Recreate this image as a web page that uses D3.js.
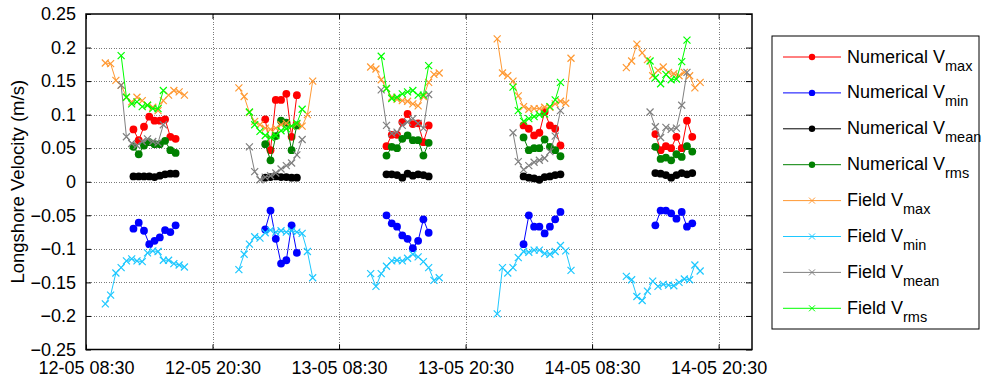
<!DOCTYPE html>
<html>
<head>
<meta charset="utf-8">
<script src="https://cdn.jsdelivr.net/npm/d3@7"></script>
<style>
  html, body { margin: 0; padding: 0; background: #fff; }
  svg { display: block; font-family: Arial, "Liberation Sans", sans-serif; }
</style>
</head>
<body>
<svg id="chart" width="982" height="385"></svg>
<script>
// Time axis: ticks every 12 h
const xTickLabels = ["12-05 08:30", "12-05 20:30", "13-05 08:30", "13-05 20:30", "14-05 08:30", "14-05 20:30"];
const xDomain = ["12-05 08:30", "14-05 23:40"];
const yTicks = [-0.25, -0.2, -0.15, -0.1, -0.05, 0, 0.05, 0.1, 0.15, 0.2, 0.25];
const stepMinutes = 30;

// Start time of each tidal window (one per panel)
const numStart      = ["12-05 13:00", "13-05 01:30", "13-05 13:00", "14-05 02:00", "14-05 14:30"];
const fieldExtStart = ["12-05 10:20", "12-05 23:00", "13-05 11:30", "13-05 23:30", "14-05 11:45"];
const fieldAvgStart = ["12-05 11:50", "13-05 00:00", "13-05 12:30", "14-05 01:00", "14-05 14:00"];

// Numerical model results (m/s)
const numVmax = [
  [0.078, 0.062, 0.082, 0.097, 0.091, 0.091, 0.093, 0.067, 0.064],
  [0.093, 0.047, 0.122, 0.122, 0.131, 0.067, 0.129],
  [0.053, 0.070, 0.070, 0.089, 0.101, 0.086, 0.087, 0.059, 0.084],
  [0.084, 0.079, 0.069, 0.073, 0.104, 0.084, 0.079, 0.054],
  [0.071, 0.047, 0.053, 0.050, 0.067, 0.050, 0.091, 0.067]
];
const numVmin = [
  [-0.070, -0.061, -0.073, -0.093, -0.088, -0.083, -0.072, -0.075, -0.065],
  [-0.071, -0.043, -0.085, -0.122, -0.117, -0.065, -0.106],
  [-0.050, -0.062, -0.067, -0.080, -0.085, -0.099, -0.088, -0.056, -0.076],
  [-0.093, -0.050, -0.067, -0.067, -0.077, -0.067, -0.056, -0.045],
  [-0.065, -0.043, -0.043, -0.047, -0.055, -0.045, -0.067, -0.062]
];
const numVmean = [
  [0.008, 0.008, 0.008, 0.008, 0.007, 0.009, 0.011, 0.012, 0.012],
  [0.006, 0.007, 0.008, 0.007, 0.007, 0.006, 0.006],
  [0.011, 0.011, 0.010, 0.006, 0.012, 0.009, 0.011, 0.010, 0.008],
  [0.008, 0.006, 0.005, 0.003, 0.007, 0.008, 0.010, 0.011],
  [0.013, 0.012, 0.010, 0.006, 0.010, 0.013, 0.011, 0.013]
];
const numVrms = [
  [0.052, 0.041, 0.054, 0.059, 0.056, 0.056, 0.061, 0.047, 0.043],
  [0.056, 0.032, 0.068, 0.091, 0.088, 0.047, 0.084],
  [0.039, 0.052, 0.050, 0.064, 0.069, 0.062, 0.062, 0.039, 0.058],
  [0.066, 0.047, 0.050, 0.050, 0.063, 0.052, 0.047, 0.038],
  [0.052, 0.034, 0.036, 0.032, 0.041, 0.037, 0.053, 0.045]
];

// Field measurements (m/s)
const fieldVmax = [
  [0.177, 0.176, 0.151, 0.144, 0.126, 0.119, 0.126, 0.121, 0.114, 0.111, 0.106, 0.121, 0.129, 0.136, 0.134, 0.129],
  [0.140, 0.127, 0.103, 0.090, 0.085, 0.080, 0.078, 0.080, 0.085, 0.087, 0.083, 0.086, 0.083, 0.100, 0.150],
  [0.171, 0.168, 0.152, 0.139, 0.126, 0.123, 0.121, 0.120, 0.116, 0.113, 0.127, 0.148, 0.160, 0.162],
  [0.213, 0.162, 0.158, 0.150, 0.128, 0.112, 0.108, 0.109, 0.109, 0.111, 0.111, 0.116, 0.120, 0.117, 0.184],
  [0.170, 0.180, 0.205, 0.192, 0.182, 0.158, 0.166, 0.171, 0.163, 0.161, 0.158, 0.163, 0.158, 0.140, 0.148]
];
const fieldVmin = [
  [-0.182, -0.169, -0.136, -0.128, -0.118, -0.115, -0.118, -0.119, -0.106, -0.103, -0.104, -0.117, -0.117, -0.122, -0.124, -0.127],
  [-0.131, -0.108, -0.093, -0.082, -0.084, -0.076, -0.072, -0.075, -0.073, -0.075, -0.073, -0.075, -0.077, -0.104, -0.143],
  [-0.137, -0.156, -0.137, -0.126, -0.118, -0.117, -0.118, -0.114, -0.108, -0.112, -0.119, -0.128, -0.147, -0.143],
  [-0.197, -0.128, -0.136, -0.128, -0.113, -0.104, -0.105, -0.102, -0.102, -0.107, -0.108, -0.104, -0.095, -0.103, -0.132],
  [-0.141, -0.146, -0.171, -0.177, -0.163, -0.148, -0.156, -0.153, -0.154, -0.155, -0.150, -0.145, -0.146, -0.124, -0.133]
];
const fieldVmean = [
  [0.144, 0.067, 0.057, 0.054, 0.060, 0.064, 0.060, 0.058, 0.085],
  [0.052, 0.015, 0.003, 0.007, 0.009, 0.013, 0.019, 0.024, 0.028, 0.040, 0.063],
  [0.137, 0.084, 0.072, 0.074, 0.084, 0.089, 0.094, 0.087, 0.080, 0.130],
  [0.073, 0.030, 0.018, 0.024, 0.029, 0.032, 0.035, 0.045, 0.068, 0.106],
  [0.104, 0.082, 0.066, 0.081, 0.078, 0.080, 0.114, 0.163]
];
const fieldVrms = [
  [0.188, 0.126, 0.116, 0.119, 0.112, 0.114, 0.109, 0.109, 0.136],
  [0.104, 0.085, 0.075, 0.069, 0.066, 0.069, 0.076, 0.079, 0.083, 0.087, 0.108],
  [0.187, 0.139, 0.124, 0.126, 0.131, 0.134, 0.136, 0.129, 0.129, 0.173],
  [0.141, 0.106, 0.090, 0.094, 0.097, 0.100, 0.101, 0.112, 0.122, 0.148],
  [0.180, 0.155, 0.146, 0.160, 0.152, 0.153, 0.179, 0.211]
];

const seriesNames = ["Numerical", "Numerical", "Numerical", "Numerical", "Field", "Field", "Field", "Field"];
const seriesSubs  = ["max", "min", "mean", "rms", "max", "min", "mean", "rms"];

const parse = d3.timeParse("%d-%m %H:%M");

const series = [
  { name: seriesNames[0], sub: seriesSubs[0], data: numVmax,    starts: numStart,      color: "#ff0000", marker: "dot" },
  { name: seriesNames[1], sub: seriesSubs[1], data: numVmin,    starts: numStart,      color: "#0000ff", marker: "dot" },
  { name: seriesNames[2], sub: seriesSubs[2], data: numVmean,   starts: numStart,      color: "#000000", marker: "dot" },
  { name: seriesNames[3], sub: seriesSubs[3], data: numVrms,    starts: numStart,      color: "#008000", marker: "dot" },
  { name: seriesNames[4], sub: seriesSubs[4], data: fieldVmax,  starts: fieldExtStart, color: "#ff9933", marker: "x" },
  { name: seriesNames[5], sub: seriesSubs[5], data: fieldVmin,  starts: fieldExtStart, color: "#1ec8ff", marker: "x" },
  { name: seriesNames[6], sub: seriesSubs[6], data: fieldVmean, starts: fieldAvgStart, color: "#808080", marker: "x" },
  { name: seriesNames[7], sub: seriesSubs[7], data: fieldVrms,  starts: fieldAvgStart, color: "#00ff00", marker: "x" }
];

const plot = { left: 86, right: 752, top: 14, bottom: 349.5 };

const x = d3.scaleTime().domain(xDomain.map(parse)).range([plot.left, plot.right]);
const y = d3.scaleLinear().domain([-0.25, 0.25]).range([plot.bottom, plot.top]);

const svg = d3.select("#chart");
const fmtY = d3.format("");

// Dotted grid
const grid = svg.append("g").attr("stroke", "#7a7a7a").attr("stroke-width", 1)
  .attr("stroke-dasharray", "1,1.5").attr("shape-rendering", "crispEdges");
grid.selectAll("line.h").data(yTicks.slice(1, -1)).join("line")
  .attr("x1", plot.left).attr("x2", plot.right)
  .attr("y1", d => Math.round(y(d)) + 0.5).attr("y2", d => Math.round(y(d)) + 0.5);
grid.selectAll("line.v").data(xTickLabels.slice(1)).join("line")
  .attr("x1", d => Math.round(x(parse(d))) + 0.5).attr("x2", d => Math.round(x(parse(d))) + 0.5)
  .attr("y1", plot.top).attr("y2", plot.bottom);

// Axes (inward ticks on all four sides)
const fontSize = 18;
const xTickVals = xTickLabels.map(parse);
const axisBottom = d3.axisBottom(x).tickValues(xTickVals).tickSizeInner(-5).tickSizeOuter(0)
  .tickPadding(12).tickFormat(d3.timeFormat("%d-%m %H:%M"));
const axisTop = d3.axisTop(x).tickValues(xTickVals).tickSizeInner(-5).tickSizeOuter(0).tickFormat("");
const axisLeft = d3.axisLeft(y).tickValues(yTicks).tickSizeInner(-5).tickSizeOuter(0)
  .tickPadding(10).tickFormat(fmtY);
const axisRight = d3.axisRight(y).tickValues(yTicks).tickSizeInner(-6).tickSizeOuter(0).tickFormat("");

function styleAxis(g) {
  g.select(".domain").remove();
  g.selectAll(".tick line").attr("stroke", "#000").attr("stroke-width", 1);
  g.selectAll(".tick text").attr("fill", "#000").attr("font-size", fontSize)
    .attr("font-family", "Arial, 'Liberation Sans', sans-serif");
}
svg.append("g").attr("transform", `translate(0,${plot.bottom})`).call(axisBottom).call(styleAxis);
svg.append("g").attr("transform", `translate(0,${plot.top})`).call(axisTop).call(styleAxis);
svg.append("g").attr("transform", `translate(${plot.left},0)`).call(axisLeft).call(styleAxis);
svg.append("g").attr("transform", `translate(${plot.right},0)`).call(axisRight).call(styleAxis);

// Frame
svg.append("rect")
  .attr("x", plot.left).attr("y", plot.top)
  .attr("width", plot.right - plot.left).attr("height", plot.bottom - plot.top)
  .attr("fill", "none").attr("stroke", "#000").attr("stroke-width", 1.5);

// Y label
svg.append("text")
  .attr("transform", `translate(24,${(plot.top + plot.bottom) / 2}) rotate(-90)`)
  .attr("text-anchor", "middle").attr("font-size", 18.5).attr("fill", "#000")
  .text("Longshore Velocity (m/s)");

// Series
const line = d3.line().x(d => x(d.t)).y(d => y(d.v));
const xMarkPath = (s) => `M${-s},${-s}L${s},${s}M${-s},${s}L${s},${-s}`;

const marks = svg.append("g");
series.forEach(s => {
  const g = marks.append("g");
  s.data.forEach((vals, p) => {
    const t0 = parse(s.starts[p]);
    const pts = vals.map((v, i) => ({ t: d3.timeMinute.offset(t0, i * stepMinutes), v }));
    g.append("path").datum(pts).attr("d", line)
      .attr("fill", "none").attr("stroke", s.color).attr("stroke-width", 1);
    if (s.marker === "dot") {
      g.selectAll(null).data(pts).join("circle")
        .attr("cx", d => x(d.t)).attr("cy", d => y(d.v)).attr("r", 3.9)
        .attr("fill", s.color);
    } else {
      g.selectAll(null).data(pts).join("path")
        .attr("transform", d => `translate(${x(d.t)},${y(d.v)})`)
        .attr("d", xMarkPath(3.5)).attr("fill", "none")
        .attr("stroke", s.color).attr("stroke-width", 1.2);
    }
  });
});

// Legend
const legend = svg.append("g");
legend.append("rect").attr("x", 772).attr("y", 36).attr("width", 207).attr("height", 293)
  .attr("fill", "#fff").attr("stroke", "#000").attr("stroke-width", 1);
series.forEach((s, i) => {
  const cy = 57 + i * 35.9;
  const g = legend.append("g");
  g.append("line").attr("x1", 783).attr("x2", 841).attr("y1", cy).attr("y2", cy)
    .attr("stroke", s.color).attr("stroke-width", 1);
  if (s.marker === "dot") {
    g.append("circle").attr("cx", 812).attr("cy", cy).attr("r", 3.2).attr("fill", s.color);
  } else {
    g.append("path").attr("transform", `translate(812,${cy})`).attr("d", xMarkPath(3))
      .attr("stroke", s.color).attr("stroke-width", 1).attr("fill", "none");
  }
  const txt = g.append("text").attr("x", 847).attr("y", cy + 5.5)
    .attr("font-size", 18).attr("fill", "#000");
  txt.append("tspan").text(s.name + " V");
  txt.append("tspan").attr("dy", 8).attr("font-size", 14.5).text(s.sub);
});
</script>
</body>
</html>
